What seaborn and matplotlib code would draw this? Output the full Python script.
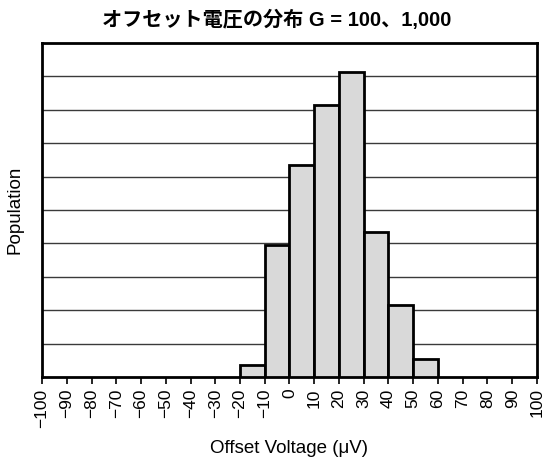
import matplotlib
matplotlib.use("Agg")
import matplotlib.pyplot as plt
import seaborn as sns
import numpy as np

# Histogram bins (µV) and population per bin
bin_edges = [-20, -10, 0, 10, 20, 30, 40, 50, 60]
bin_counts = [0.37, 3.95, 6.35, 8.14, 9.13, 4.35, 2.16, 0.55]
tick_values = list(range(-100, 101, 10))
tick_labels = [f"−{abs(v)}" if v < 0 else str(v) for v in tick_values]

title_text = "オフセット電圧の分布 G = 100、1,000"
x_label = "Offset Voltage (μV)"
y_label = "Population"

sns.set_theme(style="white")
plt.rcParams["font.family"] = ["Liberation Sans", "Noto Sans CJK JP", "DejaVu Sans"]
plt.rcParams["text.color"] = "black"
plt.rcParams["axes.labelcolor"] = "black"
plt.rcParams["xtick.color"] = "black"

fig = plt.figure(figsize=(5.47, 4.62), dpi=100)
ax = fig.add_axes([0.0768, 0.1833, 0.9049, 0.7243])

bin_centers = [(a + b) / 2 for a, b in zip(bin_edges[:-1], bin_edges[1:])]
sns.histplot(x=bin_centers, weights=bin_counts, bins=bin_edges, ax=ax,
             color="#d9d9d9", alpha=1.0, edgecolor="black", linewidth=2.0,
             zorder=3)

ax.set_xlim(-100, 100)
ax.set_ylim(0, 10)
ax.set_yticks(np.arange(1, 10))
ax.set_yticklabels([])
ax.tick_params(axis="y", length=0)
ax.grid(axis="y", color="#3a3a3a", linewidth=1.0, zorder=1)
ax.set_axisbelow(True)

ax.set_xticks(tick_values)
ax.set_xticklabels(tick_labels, rotation=90, fontsize=12.5)
ax.tick_params(axis="x", direction="out", length=5, width=1.2,
               color="black", labelcolor="black", bottom=True, pad=3)

for s in ax.spines.values():
    s.set_visible(True)
    s.set_color("black")
    s.set_linewidth(2.0)

ax.set_xlabel(x_label, fontsize=13.5, labelpad=9)
ax.set_ylabel(y_label, fontsize=13.5, labelpad=10)
fig.text(0.506, 0.956, title_text, fontsize=14.5, fontweight="bold",
         ha="center", va="center", color="black")

fig.savefig("out.png", dpi=100)
